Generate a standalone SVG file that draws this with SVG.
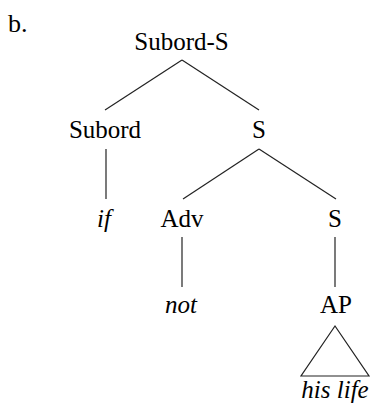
<svg xmlns="http://www.w3.org/2000/svg" width="371" height="403" viewBox="0 0 371 403">
<style>
text{font-family:"Liberation Serif","Times New Roman",serif;font-size:25px;fill:#000;text-anchor:middle}
.it{font-style:italic}
.e{stroke:#222;stroke-width:1.2;fill:none}
</style>
<rect width="371" height="403" fill="#fff"/>
<text x="8" y="32" style="text-anchor:start;font-size:26px">b.</text>
<g id="connectors">
<line class="e" x1="182" y1="60" x2="105" y2="110"/>
<line class="e" x1="182" y1="60" x2="259" y2="110"/>
<line class="e" x1="106" y1="149" x2="106" y2="199"/>
<line class="e" x1="259" y1="149" x2="183" y2="199"/>
<line class="e" x1="259" y1="149" x2="336" y2="199"/>
<line class="e" x1="182" y1="237" x2="182" y2="287"/>
<line class="e" x1="335" y1="237" x2="335" y2="287"/>
</g>
<g id="n-subord-s"><text x="181.5" y="50">Subord-S</text></g>
<g id="n-subord"><text x="105" y="138">Subord</text></g>
<g id="n-s1"><text x="259" y="138">S</text></g>
<g id="n-if"><text class="it" x="104" y="227">if</text></g>
<g id="n-adv"><text x="182" y="227">Adv</text></g>
<g id="n-s2"><text x="335" y="227">S</text></g>
<g id="n-not"><text class="it" x="181" y="313">not</text></g>
<g id="n-ap"><text x="336" y="313">AP</text></g>
<g id="n-hislife">
<polygon class="e" points="335,326 301,376 369,376"/>
<text class="it" x="335" y="397.5">his life</text>
</g>
</svg>
